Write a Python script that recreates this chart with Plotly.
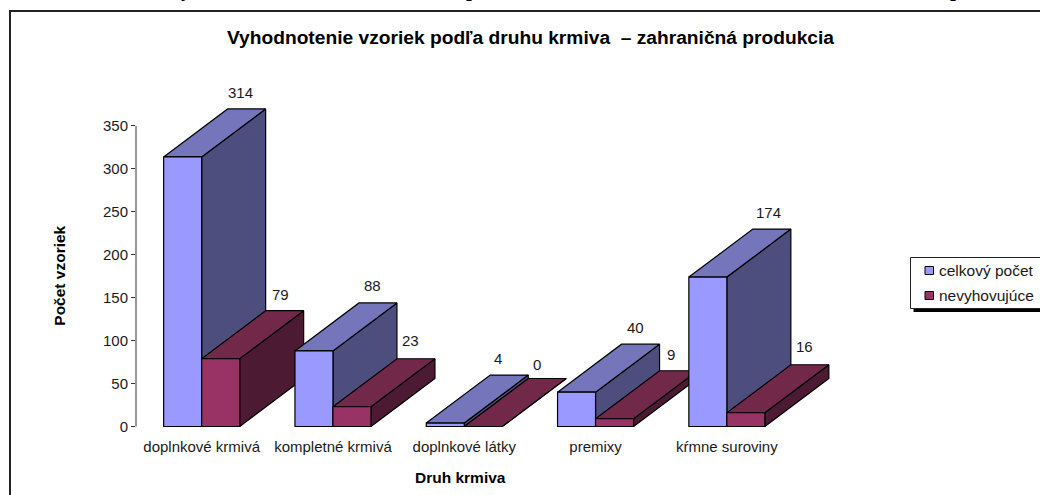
import plotly.graph_objects as go

categories = ["doplnkové krmivá", "kompletné krmivá", "doplnkové látky", "premixy", "kŕmne suroviny"]
celkovy_pocet = [314, 88, 4, 40, 174]
nevyhovujuce = [79, 23, 0, 9, 16]
y_ticks = [0, 50, 100, 150, 200, 250, 300, 350]
series_names = ["celkový počet", "nevyhovujúce"]

W, H = 1040, 495
ML, MR, MT, MB = 136, 182, 90, 65
STEP = 131.3            # px per category
PXU = 0.8586            # px per value unit
BOTTOM_PX = H - MB
ZERO_PX = 426.5
BAR_W = 38 / STEP
DX = 64 / STEP
DY = 48 / PXU
xrange_ = [-0.5, (W - MR - ML) / STEP - 0.5]
yrange_ = [(ZERO_PX - BOTTOM_PX) / PXU, (ZERO_PX - MT) / PXU]

COLORS = {
    0: ("#9999FF", "#7575BC", "#4E4E7E"),
    1: ("#993366", "#722848", "#4C1A33"),
}
LABEL_SHIFT = {0: [-6, -5, -11, -5, -3], 1: [-4, -5, -10, -8, -5]}
LABEL_RISE = {0: [16, 17, 17, 17, 17], 1: [16, 18, 14, 16, 18]}
FONT = "Liberation Sans, Arial, sans-serif"
INK = "#1a1a1a"
EDGE = 1.2


def px(x):
    return (x - ML) / (W - ML - MR)


def py(y):
    return (H - MB - y) / (H - MT - MB)


fig = go.Figure()
annotations = []
series = [celkovy_pocet, nevyhovujuce]

for i in range(len(categories)):
    for s, vals in enumerate(series):
        v = vals[i]
        xl = i + (s - 1) * BAR_W
        xr = xl + BAR_W
        _, top_c, side_c = COLORS[s]
        fig.add_trace(go.Scatter(
            x=[xr, xr, xr + DX, xr + DX, xr], y=[0, v, v + DY, DY, 0],
            mode="lines", fill="toself", fillcolor=side_c,
            line=dict(color="#000000", width=EDGE), showlegend=False, hoverinfo="skip"))
        fig.add_trace(go.Scatter(
            x=[xl, xr, xr + DX, xl + DX, xl], y=[v, v, v + DY, v + DY, v],
            mode="lines", fill="toself", fillcolor=top_c,
            line=dict(color="#000000", width=EDGE), showlegend=False, hoverinfo="skip"))
        annotations.append(dict(
            x=(xl + xr) / 2 + DX, y=v + DY, xref="x", yref="y", text=str(v),
            showarrow=False, xanchor="center", yanchor="middle",
            xshift=LABEL_SHIFT[s][i], yshift=LABEL_RISE[s][i],
            font=dict(family=FONT, size=15, color=INK)))

for s, vals in enumerate(series):
    fig.add_trace(go.Bar(
        x=list(range(len(categories))), y=vals, name=series_names[s],
        marker=dict(color=COLORS[s][0], line=dict(color="#000000", width=EDGE)),
        xaxis="x2", yaxis="y2", showlegend=False, hoverinfo="x+y"))

tick_font = dict(family=FONT, size=15, color=INK)
axis_title_font = dict(family=FONT, size=15.5, color="#000000", weight="bold")

annotations += [
    dict(x=px(460), y=py(477.7), xref="paper", yref="paper", text="Druh krmiva", showarrow=False,
         font=axis_title_font, xanchor="center", yanchor="middle"),
    dict(x=px(59.7), y=py(276), xref="paper", yref="paper", text="Počet vzoriek", showarrow=False,
         font=axis_title_font, textangle=-90, xanchor="center", yanchor="middle", xshift=-1),
]
# legend text
legend_font = dict(family=FONT, size=15.5, color=INK)
annotations += [
    dict(x=px(938.5), y=py(270.5), xref="paper", yref="paper", text=series_names[0], showarrow=False,
         font=legend_font, xanchor="left", yanchor="middle", xshift=-2),
    dict(x=px(938.5), y=py(295.5), xref="paper", yref="paper", text=series_names[1], showarrow=False,
         font=legend_font, xanchor="left", yanchor="middle", xshift=-2),
]
# heading above the chart, only its descenders reach the picture
heading_font = dict(family="Liberation Serif, serif", size=21, color="#000000", weight="bold")
for hx, ch in [(186, "y"), (472, "p"), (956, "p")]:
    annotations.append(dict(x=px(hx), y=py(0), xref="paper", yref="paper", text=ch, showarrow=False,
                            font=heading_font, xanchor="center", yanchor="bottom", yshift=-3))


def rect(x0, y0, x1, y1, fill, line="#000000", lw=1):
    return dict(type="rect", xref="paper", yref="paper", x0=px(x0), x1=px(x1), y0=py(y0), y1=py(y1),
                fillcolor=fill, line=dict(color=line, width=lw), layer="above")


shapes = [
    dict(type="line", xref="paper", yref="paper", x0=px(10), x1=px(1040), y0=py(11), y1=py(11),
         line=dict(color="#222222", width=2)),
    dict(type="line", xref="paper", yref="paper", x0=px(10), x1=px(10), y0=py(10), y1=py(495),
         line=dict(color="#222222", width=2)),
    dict(type="line", xref="paper", yref="y", x0=0, x1=0, y0=0, y1=350,
         line=dict(color="#333333", width=1)),
    rect(913.5, 260, 1045, 312, "#000000", lw=0),
    rect(910.5, 257.5, 1045, 308.5, "#FFFFFF", line="#222222"),
    rect(925, 266.5, 933.5, 274.5, COLORS[0][0]),
    rect(925, 291.5, 933.5, 299.5, COLORS[1][0]),
]

fig.update_layout(
    width=W, height=H,
    margin=dict(l=ML, r=MR, t=MT, b=MB, autoexpand=False),
    paper_bgcolor="#FFFFFF", plot_bgcolor="rgba(0,0,0,0)",
    barmode="group", bargap=1 - 2 * BAR_W, bargroupgap=0,
    showlegend=False,
    title=dict(text="Vyhodnotenie vzoriek podľa druhu krmiva  – zahraničná produkcia",
               x=530.5 / W, xanchor="center", y=1 - 37 / H, yanchor="middle",
               font=dict(family=FONT, size=19.2, color="#000000", weight="bold")),
    xaxis=dict(range=xrange_, tickmode="array", tickvals=list(range(len(categories))), ticktext=categories,
               showgrid=False, zeroline=False, showline=False, ticks="", tickfont=tick_font,
               ticklabelstandoff=6),
    yaxis=dict(range=yrange_, tickmode="array", tickvals=y_ticks, showgrid=False, zeroline=False,
               showline=False, ticks="outside", ticklen=4, tickcolor="#333333", tickfont=tick_font),
    xaxis2=dict(range=xrange_, overlaying="x", visible=False),
    yaxis2=dict(range=yrange_, overlaying="y", visible=False),
    annotations=annotations, shapes=shapes,
)
fig.write_html("out.html", config={"displayModeBar": False},
               post_script="document.body.style.margin='0';document.documentElement.style.overflow='hidden';")
